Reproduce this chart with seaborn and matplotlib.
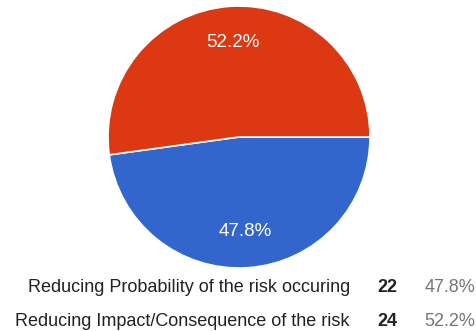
import matplotlib
matplotlib.use("Agg")
import matplotlib.pyplot as plt
import seaborn as sns

# Survey responses
categories = ["Reducing Probability of the risk occuring",
              "Reducing Impact/Consequence of the risk"]
counts = [22, 24]
percent_labels = ["47.8%", "52.2%"]
colors = ["#3366CC", "#DC3912"]

sns.set_theme(style="white")
plt.rcParams["font.family"] = ["Liberation Sans", "DejaVu Sans"]

W, H = 477, 331
fig = plt.figure(figsize=(W / 100, H / 100), dpi=100)
fig.patch.set_facecolor("white")

# Pie placed in pixel coordinates: centre (239, 137), radius 131
cx, cy, r = 239, 137, 131
ax = fig.add_axes([(cx - r) / W, (H - cy - r) / H, 2 * r / W, 2 * r / H])
wedges, texts, autotexts = ax.pie(
    counts,
    colors=colors,
    startangle=0,
    counterclock=False,
    autopct="%1.1f%%",
    pctdistance=0.72,
    wedgeprops=dict(edgecolor="white", linewidth=1.2),
    textprops=dict(color="white", fontsize=13.5),
)
ax.set_xlim(-1.0, 1.0)
ax.set_ylim(-1.0, 1.0)
ax.set_aspect("equal")
ax.axis("off")

# Table-style legend below the pie
row_y = [288, 322]
for cat, n, pct, y in zip(categories, counts, percent_labels, row_y):
    yf = 1 - y / H
    fig.text(350 / W, yf, cat, ha="right", va="center", fontsize=13, color="#222222")
    fig.text(397 / W, yf, str(n), ha="right", va="center", fontsize=13,
             fontweight="bold", color="#222222")
    fig.text(475 / W, yf, pct, ha="right", va="center", fontsize=13, color="#757575")

fig.savefig("out.png", dpi=100, facecolor="white")
